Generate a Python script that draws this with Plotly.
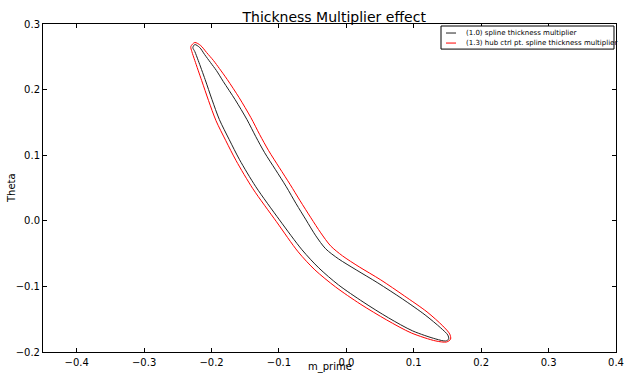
import plotly.graph_objects as go

# (1.0) spline thickness multiplier - closed blade profile (m_prime, theta)
base_m = [-0.2248, -0.2175, -0.2102, -0.2015, -0.1927, -0.1825, -0.1650, -0.1474, -0.1343, -0.1212,
          -0.1051, -0.0891, -0.0745, -0.0599, -0.0453, -0.0307, -0.0117, 0.0146, 0.0467, 0.0832,
          0.1168, 0.1401, 0.1504, 0.1518, 0.1474, 0.1328, 0.0985, 0.0628, 0.0248, -0.0117,
          -0.0409, -0.0657, -0.0993, -0.1343, -0.1584, -0.1737, -0.1883, -0.1993, -0.2095, -0.2197,
          -0.2248, -0.2277, -0.2248]
base_theta = [0.2687, 0.2641, 0.2534, 0.2412, 0.2290, 0.2122, 0.1847, 0.1542, 0.1282, 0.1038,
              0.0779, 0.0519, 0.0260, 0.0015, -0.0229, -0.0427, -0.0580, -0.0748, -0.0947, -0.1191,
              -0.1435, -0.1634, -0.1740, -0.1802, -0.1832, -0.1802, -0.1679, -0.1481, -0.1237, -0.0977,
              -0.0718, -0.0443, 0.0015, 0.0519, 0.0931, 0.1237, 0.1542, 0.1847, 0.2153, 0.2443,
              0.2580, 0.2641, 0.2687]

# (1.3) hub ctrl pt. spline thickness multiplier - closed blade profile
hub_m = [-0.2248, -0.2161, -0.2073, -0.1971, -0.1883, -0.1766, -0.1591, -0.1416, -0.1285, -0.1153,
         -0.0993, -0.0832, -0.0686, -0.0526, -0.0380, -0.0234, -0.0058, 0.0190, 0.0511, 0.0861,
         0.1197, 0.1431, 0.1533, 0.1547, 0.1489, 0.1328, 0.0964, 0.0599, 0.0204, -0.0161,
         -0.0467, -0.0715, -0.1036, -0.1387, -0.1635, -0.1788, -0.1934, -0.2044, -0.2146, -0.2248,
         -0.2292, -0.2307, -0.2248]
hub_theta = [0.2718, 0.2672, 0.2565, 0.2443, 0.2321, 0.2153, 0.1878, 0.1573, 0.1313, 0.1069,
             0.0809, 0.0550, 0.0305, 0.0046, -0.0183, -0.0382, -0.0534, -0.0702, -0.0901, -0.1145,
             -0.1389, -0.1603, -0.1725, -0.1802, -0.1847, -0.1832, -0.1710, -0.1512, -0.1267, -0.1008,
             -0.0748, -0.0473, -0.0015, 0.0489, 0.0916, 0.1221, 0.1527, 0.1832, 0.2137, 0.2443,
             0.2580, 0.2656, 0.2718]

series_names = ["(1.0) spline thickness multiplier",
                "(1.3) hub ctrl pt. spline thickness multiplier"]
series_colors = ["#222222", "red"]

FONT = "DejaVu Sans"

fig = go.Figure()
for (xs, ys), name, col in zip([(base_m, base_theta), (hub_m, hub_theta)], series_names, series_colors):
    fig.add_trace(go.Scatter(x=xs, y=ys, mode="lines",
                             line=dict(color=col, width=1, shape="spline", smoothing=0.8),
                             name=name, showlegend=False))

axis_common = dict(showgrid=False, zeroline=False, showline=True, linecolor="black", linewidth=1,
                   mirror="allticks", ticks="inside", ticklen=4, tickcolor="black",
                   automargin=False,
                   tickfont=dict(family=FONT, size=10, color="black"), tickformat=".1f", dtick=0.1)

fig.update_layout(
    width=627, height=374,
    margin=dict(l=43, r=11, t=24, b=22, autoexpand=False),
    paper_bgcolor="white", plot_bgcolor="white",
    font=dict(family=FONT, color="black"),
    title=dict(text="Thickness Multiplier effect", x=0.533, xanchor="center",
               y=1 - 17 / 374, yanchor="middle", font=dict(family=FONT, size=14, color="black")),
    xaxis=dict(range=[-0.45, 0.4], tick0=0, ticklabelstandoff=1, **axis_common),
    yaxis=dict(range=[-0.2, 0.3], tick0=0, **axis_common),
    showlegend=False,
)

# compact matplotlib-style legend box
fig.add_shape(type="rect", xref="paper", yref="paper", x0=0.6946, x1=0.9965, y0=0.9235, y1=0.9939,
              line=dict(color="black", width=1), fillcolor="white", layer="above")
for i, (name, col) in enumerate(zip(series_names, series_colors)):
    yy = 0.9725 - i * 0.0306
    fig.add_shape(type="line", xref="paper", yref="paper", x0=0.7033, x1=0.7208, y0=yy, y1=yy,
                  line=dict(color=col, width=1), layer="above")
    fig.add_annotation(text=name, xref="paper", yref="paper", x=0.7347, y=yy,
                       xanchor="left", yanchor="middle", showarrow=False,
                       font=dict(family=FONT, size=7, color="black"))

fig.add_annotation(text="m_prime", xref="paper", yref="paper", x=0.5, y=0, yshift=-22,
                   xanchor="center", yanchor="bottom", showarrow=False, borderpad=0,
                   font=dict(family=FONT, size=10, color="black"))
fig.add_annotation(text="Theta", xref="paper", yref="paper", x=0, xshift=-32, y=0.5,
                   xanchor="center", yanchor="middle", textangle=-90, showarrow=False,
                   font=dict(family=FONT, size=10, color="black"))

fig.write_html("out.html")
